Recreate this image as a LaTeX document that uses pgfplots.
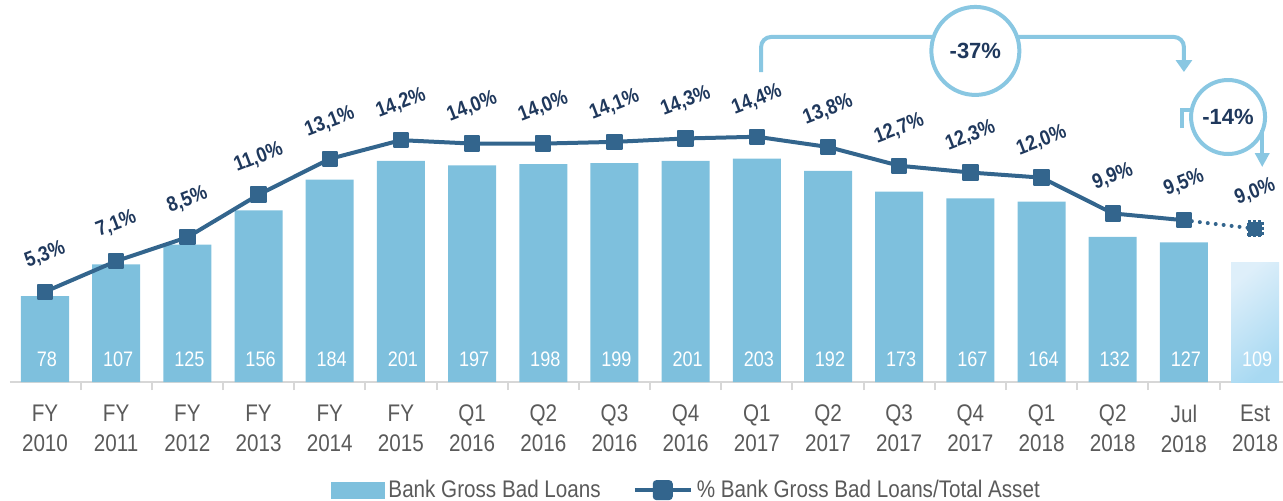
\documentclass[border=0pt]{standalone}
\usepackage{fontspec}
\setmainfont[FakeStretch=0.86]{Liberation Sans}
\newfontfamily\circfont{Liberation Sans}
\usepackage{pgfplots}
\pgfplotsset{compat=1.18}
\usetikzlibrary{arrows.meta}
\definecolor{barblue}{RGB}{126,192,221}
\definecolor{lineblue}{RGB}{51,101,141}
\definecolor{navy}{RGB}{31,56,92}
\definecolor{annot}{RGB}{137,199,226}
\definecolor{tickgrey}{RGB}{90,90,90}
\definecolor{axisgrey}{RGB}{215,215,215}
\definecolor{estA}{RGB}{222,239,250}
\definecolor{estB}{RGB}{168,217,242}
\begin{document}
\begin{tikzpicture}
\path[use as bounding box] (0,0) rectangle (641.5pt,250pt);
\begin{axis}[
  at={(5pt,59pt)}, anchor=south west,
  scale only axis, width=636.5pt, height=191pt,
  xmin=-0.4917, xmax=17.392, ymin=0, ymax=347.27,
  axis x line*=bottom, axis y line=none,
  x axis line style={draw=axisgrey, line width=1pt},
  xtick={0,...,17},
  xticklabels={{FY\\2010},{FY\\2011},{FY\\2012},{FY\\2013},{FY\\2014},{FY\\2015},{Q1\\2016},{Q2\\2016},{Q3\\2016},{Q4\\2016},{Q1\\2017},{Q2\\2017},{Q3\\2017},{Q4\\2017},{Q1\\2018},{Q2\\2018},{Jul\\2018},{Est\\2018}},
  major tick length=0pt,
  extra x ticks={-0.5,0.5,...,16.5}, extra x tick labels={},
  extra x tick style={major tick length=4pt, tick align=outside, major tick style={draw=axisgrey, line width=1pt}},
  xticklabel style={align=center, font=\fontsize{12}{15}\selectfont, text=tickgrey, yshift=-8pt},
  clip=false,
]
\addplot[ybar, bar width=24pt, bar shift=0pt, fill=barblue, draw=none,
  nodes near coords, point meta=explicit symbolic,
  visualization depends on={rawy \as \rawy},
  every node near coord/.append style={anchor=center, yshift={11.5pt-0.55pt*\rawy}, xshift=1pt, text=white, font=\fontsize{10.5}{12}\selectfont}]
coordinates {(0,78)[78] (1,107)[107] (2,125)[125] (3,156)[156] (4,184)[184] (5,201)[201] (6,197)[197] (7,198)[198] (8,199)[199] (9,201)[201] (10,203)[203] (11,192)[192] (12,173)[173] (13,167)[167] (14,164)[164] (15,132)[132] (16,127)[127]};
\addplot[ybar, bar width=24pt, bar shift=0pt, draw=none, top color=estA, bottom color=estB, shading angle=40,
  nodes near coords, point meta=explicit symbolic,
  visualization depends on={rawy \as \rawy},
  every node near coord/.append style={anchor=center, yshift={11.5pt-0.55pt*\rawy}, xshift=1pt, text=white, font=\fontsize{10.5}{12}\selectfont}]
coordinates {(17,109)[109]};
\end{axis}
\begin{axis}[
  at={(5pt,59pt)}, anchor=south west,
  scale only axis, width=636.5pt, height=191pt,
  xmin=-0.4917, xmax=17.392, ymin=0, ymax=22.43,
  hide axis, clip=false,
  legend style={at={(0.532,-0.283)}, anchor=center, draw=none, fill=none,
    legend columns=2, font=\fontsize{12}{14}\selectfont, text=tickgrey,
    /tikz/every even column/.append style={column sep=14pt}},
]
\addlegendimage{legend image code/.code={\fill[barblue] (0pt,-4pt) rectangle (26.5pt,4pt);}}
\addlegendentry{Bank Gross Bad Loans}
\addplot[lineblue, line width=2pt, mark=square*, mark size=3.6pt,
  mark options={fill=lineblue, draw=lineblue, line width=1pt, line join=round},
  legend image code/.code={\draw[lineblue, line width=2pt] (0pt,0pt) -- (28pt,0pt);
    \fill[lineblue, rounded corners=1pt] (10pt,-4pt) rectangle (18pt,4pt);},
  nodes near coords, point meta=explicit symbolic,
  every node near coord/.append style={anchor=center, yshift=18.5pt, rotate=21, text=navy, font=\bfseries\fontsize{10.5}{12}\selectfont}]
coordinates {(0,5.3)[5,3\%] (1,7.1)[7,1\%] (2,8.5)[8,5\%] (3,11.0)[11,0\%] (4,13.1)[13,1\%] (5,14.2)[14,2\%] (6,14.0)[14,0\%] (7,14.0)[14,0\%] (8,14.1)[14,1\%] (9,14.3)[14,3\%] (10,14.4)[14,4\%] (11,13.8)[13,8\%] (12,12.7)[12,7\%] (13,12.3)[12,3\%] (14,12.0)[12,0\%] (15,9.9)[9,9\%] (16,9.5)[9,5\%]};
\addlegendentry{\% Bank Gross Bad Loans/Total Asset}
\addplot[forget plot, lineblue, line width=2pt, line cap=round, dash pattern=on 0pt off 4pt,
  mark=square*, mark indices={2}, mark size=3.6pt,
  mark options={fill=lineblue, draw=lineblue, line width=1.2pt, dash pattern=on 1.5pt off 1pt, line cap=butt},
  nodes near coords, point meta=explicit symbolic,
  every node near coord/.append style={anchor=center, yshift=18.5pt, rotate=21, text=navy, font=\bfseries\fontsize{10.5}{12}\selectfont}]
coordinates {(16,9.5)[] (17,9.0)[9,0\%]};
% -37% annotation
\draw[annot, line width=2pt, rounded corners=5pt, -{Triangle[width=8pt,length=6pt]}]
  (axis cs:10.06,18.2) |- (axis cs:16,20.26) -- (axis cs:16,18.2);
\node[circle, draw=annot, line width=2pt, fill=white, minimum size=44pt, inner sep=0pt,
  text=navy, font=\circfont\bfseries\fontsize{11}{13}\selectfont] at (axis cs:13.07,19.44) {-37\%};
% -14% annotation
\draw[annot, line width=2pt] (axis cs:15.97,14.91) |- (axis cs:16.62,15.97);
\node[circle, draw=annot, line width=2pt, fill=white, minimum size=37pt, inner sep=0pt,
  text=navy, font=\circfont\bfseries\fontsize{11}{13}\selectfont] at (axis cs:16.62,15.56) {-14\%};
\draw[annot, line width=2pt, -{Triangle[width=7pt,length=7pt]}]
  (axis cs:17.10,14.8) -- (axis cs:17.10,12.62);
\end{axis}
\end{tikzpicture}
\end{document}
